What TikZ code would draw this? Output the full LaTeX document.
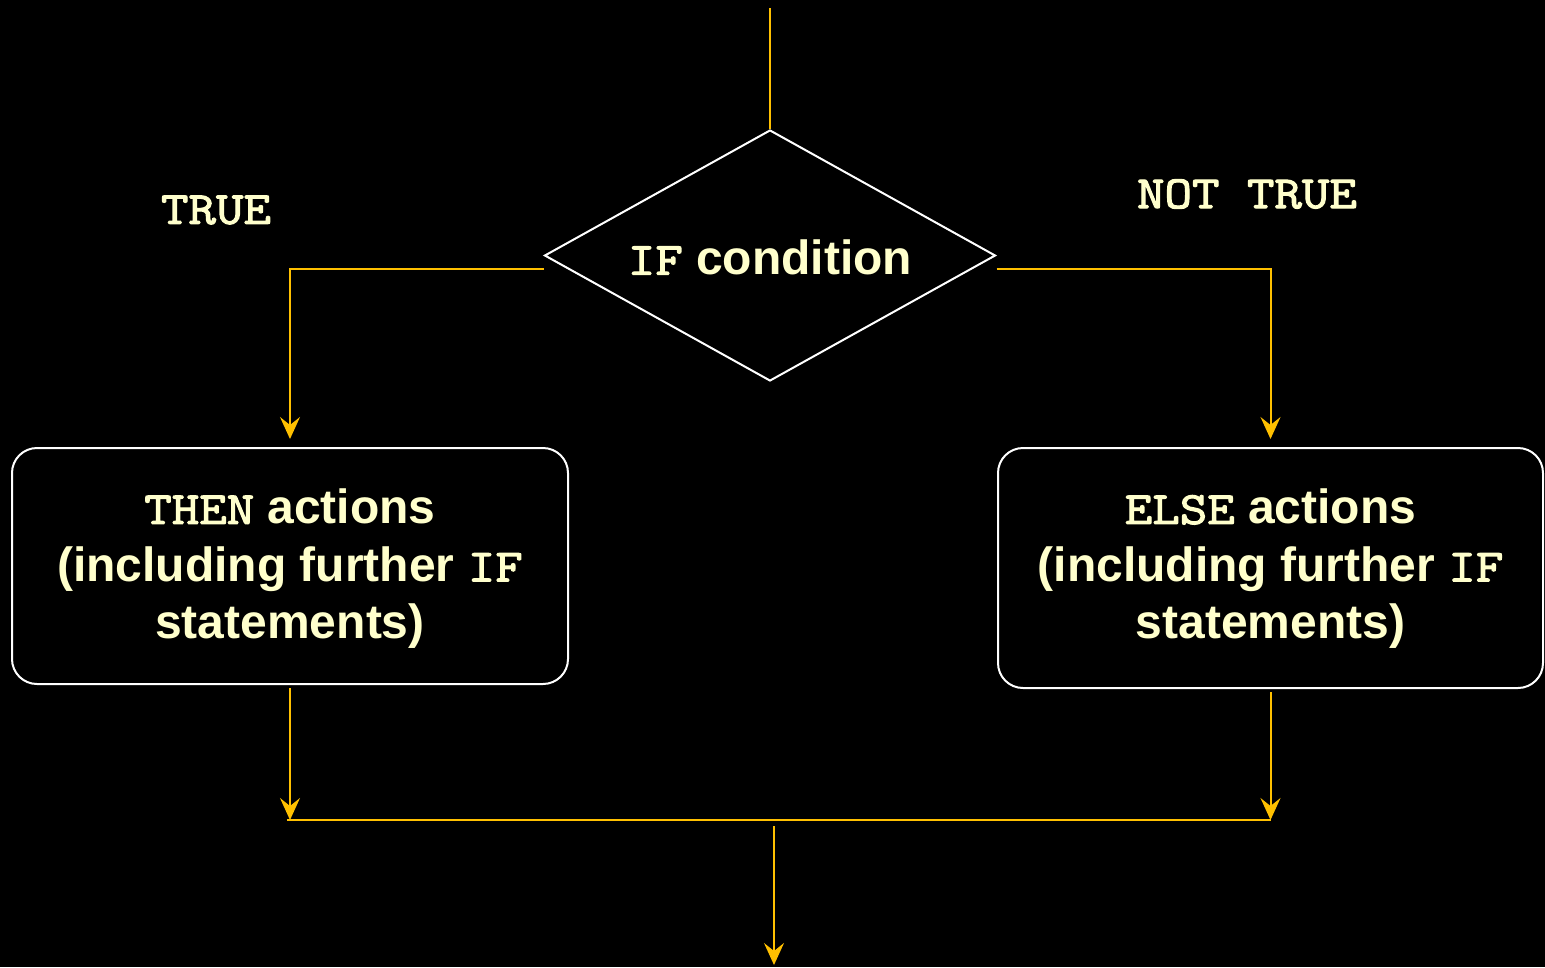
\documentclass[tikz,border=0pt]{standalone}
\usepackage{fontspec}
\setmainfont{Liberation Sans}
\newfontfamily\codefont{Latin Modern Mono}[FakeStretch=1.16, FakeBold=2.5]
\usetikzlibrary{shapes.geometric,arrows.meta}
\definecolor{flowyellow}{HTML}{FFC000}
\definecolor{cream}{HTML}{FFFFCC}
\newcommand\kw[1]{{\fontsize{46}{57.5}\codefont #1}}
\tikzset{
  flow/.style={draw=flowyellow, line width=2pt},
  flowarrow/.style={flow, -{Stealth[length=22pt,width=20pt,inset=8pt]}},
  decision/.style={diamond, draw=white, line width=2pt, fill=black,
    minimum width=451pt, minimum height=251pt, aspect=1.8, inner sep=0pt},
  actionbox/.style={rectangle, rounded corners=25pt, draw=white, line width=2pt,
    fill=black, inner sep=0pt},
  bodytext/.style={text=cream, align=center, inner sep=0pt,
    font=\fontsize{48}{57.5}\selectfont\bfseries},
  branchlabel/.style={text=cream, inner sep=0pt,
    font=\fontsize{46}{57}\selectfont\codefont}
}
\begin{document}
\begin{tikzpicture}[x=1pt,y=-1pt]
  % page frame
  \fill[black] (0,0) rectangle (1545,967);
  \useasboundingbox (0,0) rectangle (1545,967);

  % decision and the two branches
  \node[decision] (cond) at (770,255.5) {};
  \node[bodytext] (condtext) at ([yshift=-2pt]cond.center) {\kw{IF} condition};
  \node[actionbox, minimum width=556pt, minimum height=236pt] (thenbox) at (290,566) {};
  \node[bodytext] (thentext) at ([yshift=-3pt]thenbox.center)
    {\kw{THEN} actions\\(including further \kw{IF}\\statements)};
  \node[actionbox, minimum width=545pt, minimum height=240pt] (elsebox) at (1270.5,568) {};
  \node[bodytext] (elsetext) at ([yshift=-1pt]elsebox.center)
    {\kw{ELSE} actions\\(including further \kw{IF}\\statements)};

  \node[branchlabel] (truelbl) at (216,210) {TRUE};
  \node[branchlabel] (nottruelbl) at (1247,194) {NOT TRUE};

  % entry, merge and exit points
  \coordinate (entry) at (769,8);
  \coordinate (merge) at (774,820);
  \coordinate (exit) at (774,965);

  % connectors
  \draw[flow] (cond.north |- entry) -- (cond.north);
  \draw[flowarrow] ([yshift=-13pt]cond.west) -| ([yshift=8pt]thenbox.north);
  \draw[flowarrow] ([yshift=-13pt]cond.east) -| ([yshift=8pt]elsebox.north);
  \draw[flowarrow] ([yshift=-3pt]thenbox.south) -- (thenbox.south |- merge);
  \draw[flowarrow] ([yshift=-3pt]elsebox.south) -- (elsebox.south |- merge);
  \draw[flow] ([xshift=-3pt]thenbox.south |- merge) -- (elsebox.south |- merge);
  \draw[flowarrow] ([yshift=-6pt]merge) -- (exit);
\end{tikzpicture}
\end{document}
